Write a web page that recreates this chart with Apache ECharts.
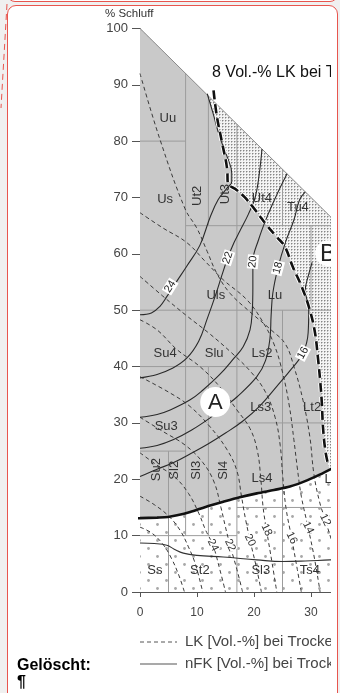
<!DOCTYPE html>
<html><head><meta charset="utf-8">
<script src="https://cdn.jsdelivr.net/npm/echarts@6/dist/echarts.min.js"></script>
<style>
html,body{margin:0;padding:0;background:#f0f0f0;width:340px;height:693px;overflow:hidden;font-family:"Liberation Sans",Arial,sans-serif;}
#prev{position:absolute;left:7px;top:-30px;width:329px;height:30px;border:1px solid #e8554e;border-radius:8px;background:#fff;}
#box{position:absolute;left:7px;top:5px;width:329px;height:720px;border:1px solid #e8554e;border-radius:9px;background:#fff;}
#clip{position:absolute;left:0;top:0;width:331px;height:693px;overflow:hidden;}
#chart{position:absolute;left:0;top:0;width:400px;height:693px;}
#del{position:absolute;left:17px;top:656px;font:bold 16px "Liberation Sans",Arial,sans-serif;color:#000;line-height:17px;}
#conn{position:absolute;left:0;top:0;}
</style></head>
<body>
<div id="prev"></div>
<div id="box"></div>
<svg id="conn" width="12" height="112"><line x1="7" y1="4" x2="1" y2="108" stroke="#e8554e" stroke-width="1" stroke-dasharray="6,4"/></svg>
<div id="clip"><div id="chart"></div></div>
<div id="del">Gelöscht:<br>¶</div>
<script>
// ---------- data ----------
const xTicks = [0, 10, 20, 30];
const yTicks = [0, 10, 20, 30, 40, 50, 60, 70, 80, 90, 100];
// thick solid boundary (nFK boundary)
const thickLine = [[-4,13],[0,13.1],[3,13.2],[4.9,13.3],[6.5,13.6],[8.8,14.2],[11.5,15.1],[14.6,16],[17.5,16.8],[20.5,17.5],[23.5,18.1],[26.3,18.7],[29.3,19.8],[32.1,21.1],[33.3,21.7],[36,23.1],[40,25]];
// 8 Vol.-% LK (thick dashed)
const lk8 = [[12.9,89],[13.5,84.3],[14.4,79.7],[15.3,74.9],[15.4,72.6],[17,71.3],[18.4,70],[20.2,67.8],[22.3,65],[24,63],[25.4,61.3],[26.8,57.7],[28.4,54.1],[29.8,50],[30.7,46],[31.2,41.7],[31.6,37.6],[31.9,33.5],[32.1,29.3],[32.5,25.2],[33,22.6]];
// thin bottom solid line in sand region
const sandLine = [[0,8.7],[2.5,8.6],[4.7,8.3],[6,7.6],[7.6,6.9],[10,6.5],[14.6,6.2],[20.5,5.7],[25,5.4],[29,5.5],[33.3,5.7],[40,5.9]];
// nFK contours (solid)
const nfk24 = [[0,49.2],[2,49.5],[3.5,50.7],[4.7,52.4],[6.5,55.2],[8.2,57.8],[10.5,61.5],[12.3,66.5],[13.7,69.6],[15.3,71.7],[16.1,72.8],[16.1,74.3],[15.3,77.2],[14,80.7],[12.8,85],[11.8,88.4]];
const nfk22 = [[0,38],[3,38.6],[5.5,39.6],[8.2,41.5],[10.3,44.5],[11.8,48.5],[13.3,52.8],[14.3,56],[15.4,59.3],[16.5,62],[17.5,64],[19,67],[20.2,70],[20.9,74],[21.4,78.6]];
const nfk20 = [[0,31],[3,31.5],[5.3,32.3],[8.8,34.1],[11,35.8],[14,38.6],[16.5,41.5],[18.1,43.5],[19.3,46.5],[19.7,50],[19.8,54],[19.8,58.6],[20.8,62.5],[22.3,66.6],[24,70.5],[25.8,74.2]];
const nfk18 = [[0,25.5],[3,26],[5.8,27],[9,28.7],[12.3,30.9],[15,33],[17,34.6],[20.5,38.2],[22,41],[22.8,45],[23,49],[23.3,53],[24.2,57.5],[25.5,62],[27,66],[28,69.6],[29,71]];
const nfk16 = [[0,20.5],[3,21.8],[6,23],[9,24.6],[12,26.3],[15,28.2],[18,30.3],[21,33],[24,36.5],[26.5,39.5],[28.6,42.4],[29.5,46],[29.6,50],[29,53.6],[29.5,56],[30.2,58.5]];
// LK contours (dashed)
const lk12 = [[0,92],[3.5,80.3],[7.9,68],[10,64.5],[11.8,60.4],[13.5,56.5],[15.8,53],[19.3,49.7],[23,46.5],[25.5,44],[27,40],[28.6,34],[29.8,27.5],[30.5,21],[31.5,16],[32.5,12.8],[34,8],[35.5,4],[37,0]];
const lk14 = [[0,67.3],[4,64.6],[8.2,62],[11.5,58.6],[14.6,55.4],[18.8,51.8],[21.5,48],[23.5,44],[25,39],[26.2,33],[27,27],[27.6,22],[28.3,17],[29.5,11.4],[30.6,6],[31.6,0]];
const lk16 = [[0,56],[4,52.5],[8.2,49],[12,46],[16,42.5],[19.5,39],[22,35.5],[23.7,31],[24.6,26],[25,21],[25.6,15],[26.6,9.6],[27.6,4],[28.3,0]];
const lk18 = [[0,48.3],[3,46.5],[6.5,43],[10.5,40],[14,36.4],[17,32.3],[19.3,29],[20.6,25],[21.2,20],[21.6,15],[22.2,11],[23.2,5],[24,0]];
const lk20 = [[0,38.2],[5.3,35.3],[8.8,32.9],[12.3,29.3],[15.3,25.2],[17,21.5],[17.8,17],[18.5,13],[19.3,9.2],[20.5,4],[21.3,0]];
const lk22 = [[0,31],[4,28.5],[8,26],[11,23],[13,19.5],[14.2,15],[15,11.5],[15.8,8.3],[17,4],[18,0]];
const lk24 = [[0,24.7],[3,22.5],[6,20.5],[8.5,17.5],[10.3,14],[11.5,11],[12.8,8.3],[14,4],[15,0]];
const lk26 = [[0,17],[2.5,15.5],[5,13.5],[7,11],[8.5,8],[9.7,5],[11,0]];
const lk28 = [[0,11.5],[2,10.5],[4,8.5],[5.5,6],[6.8,3],[7.8,0]];
const lkLines = [lk12, lk14, lk16, lk18, lk20, lk22, lk24, lk26, lk28];
const nfkLines = [nfk24, nfk22, nfk20, nfk18, nfk16];
// class boundaries [x1,y1,x2,y2]
const classGrid = [[0,80,8,80],[8,65,40,65],[0,50,40,50],[0,40,25,40],[17,30,40,30],[0,25,8,25],[17,15,40,15],[0,10,17,10],
  [5,0,5,25],[8,10,8,92],[12,10,12,40],[12,65,12,88],[17,0,17,83],[25,0,25,50],[25,65,25,75],[30,50,30,65],[35,0,35,65]];
// soil class labels [text, x, y, rotation deg]
const classLabels = [["Uu",4.9,84.1,0],["Us",4.4,69.6,0],["Ut2",10,70.3,90],["Ut3",15,70.6,90],["Ut4",21.4,69.8,0],["Tu4",27.7,68.3,0],
  ["Uls",13.3,52.7,0],["Lu",23.7,52.7,0],["Su4",4.4,42.4,0],["Slu",13,42.4,0],["Ls2",21.4,42.4,0],["Ls3",21.2,32.7,0],["Lt2",30.2,32.7,0],
  ["Su3",4.6,29.3,0],["Su2",2.8,21.7,90],["Sl2",6.1,21.6,90],["Sl3",9.9,21.6,90],["Sl4",14.7,21.6,90],["Ls4",21.4,20.2,0],["Lts",33.9,19.9,0],
  ["Ss",2.6,3.9,0],["St2",10.5,3.9,0],["Sl3",21.2,3.9,0],["Ts4",29.8,3.9,0]];
// contour value labels [text, x, y, rotation deg]
const nfkLabels = [["24",5.3,54.2,58],["22",15.4,59.3,72],["20",19.8,58.6,85],["18",24.2,57.5,75],["16",28.6,42.4,62]];
const lkLabels = [["24",12.8,8.3,-64],["22",15.8,8.3,-64],["20",19.3,9.2,-64],["18",22.2,11,-64],["16",26.6,9.6,-64],["14",29.5,11.4,-64],["12",32.5,12.8,-64]];
const regionLetters = [["A",13.2,33.7],["B",33,60.1]];

// ---------- patterns ----------
function stipple(){const c=document.createElement('canvas');c.width=3;c.height=3;const g=c.getContext('2d');
  g.fillStyle='#f4f4f4';g.fillRect(0,0,3,3);g.fillStyle='#c0c0c0';g.fillRect(1,0,1,1);g.fillRect(0,1,1,1);g.fillStyle='#858585';g.fillRect(0,0,1,1);return c;}
function sandDots(){const c=document.createElement('canvas');c.width=18;c.height=16;const g=c.getContext('2d');
  g.fillStyle='#ffffff';g.fillRect(0,0,18,16);g.fillStyle='#a8a8a8';
  g.beginPath();g.arc(4.5,4.5,1.4,0,Math.PI*2);g.fill();g.beginPath();g.arc(13.5,12.5,1.4,0,Math.PI*2);g.fill();return c;}

// ---------- polygons built from the boundaries ----------
const thickIn = thickLine.filter(p=>p[0]>=0 && p[0]<=33.3);
const grayPoly = [[0,100]].concat([[11.8,88.2]], nfk24.slice(9).reverse(), lk8.slice(4), thickIn.slice().reverse(), [[0,13.1]]);
const bPoly = [[0,100],[40,60]].concat(thickLine.filter(p=>p[0]>=0).reverse());
const sandPoly = [[0,0],[40,0]].concat(thickLine.filter(p=>p[0]>=0).reverse());

function polySeries(poly, fill, z){
  return {type:'custom', z:z, silent:true, data:[[0,0]],
    renderItem:function(params, api){
      return {type:'polygon', shape:{points:poly.map(p=>api.coord(p))}, style:{fill:fill, stroke:null}};
    }};
}
function lineSeries(pts, color, width, dash, z, smooth, clip){
  return {type:'line', data:pts, showSymbol:false, smooth:smooth, z:z, silent:true, clip:clip!==false,
    lineStyle:{color:color, width:width, type:dash||'solid'}};
}
function textSeries(arr, z, styleFn){
  return {type:'custom', z:z, silent:true, data:arr.map(d=>[d[1],d[2]]),
    renderItem:function(params, api){
      const d=arr[params.dataIndex]; const p=api.coord([api.value(0), api.value(1)]);
      return {type:'text', x:p[0], y:p[1], rotation:(d[3]||0)*Math.PI/180, style:styleFn(d)};
    }};
}

const chart = echarts.init(document.getElementById('chart'), null, {renderer:'canvas'});
const series = [];
series.push(polySeries(sandPoly, {image:sandDots(), repeat:'repeat'}, 1));
series.push(polySeries(bPoly, {image:stipple(), repeat:'repeat'}, 1));
series.push(polySeries(grayPoly, '#c9c9c9', 2));
series.push({type:'custom', z:3, silent:true, data:classGrid,
  renderItem:function(params, api){
    const a=api.coord([api.value(0),api.value(1)]), b=api.coord([api.value(2),api.value(3)]);
    return {type:'line', shape:{x1:a[0],y1:a[1],x2:b[0],y2:b[1]}, style:{stroke:'#9c9c9c', lineWidth:1}};
  }});
series.push(lineSeries([[0,100],[40,60]], '#8a8a8a', 1, 'solid', 3, false));
lkLines.forEach(l=>series.push(lineSeries(l, '#3a3a3a', 1, [4,3], 4, 0.4)));
nfkLines.forEach(l=>series.push(lineSeries(l, '#2a2a2a', 1.1, 'solid', 4, 0.4)));
series.push(lineSeries(sandLine, '#333', 1.1, 'solid', 4, 0.4));
series.push(lineSeries(thickLine, '#111', 2.6, 'solid', 6, 0.3, false));
series.push(lineSeries(lk8, '#fff', 4.5, [9,5], 5, 0.4));
series.push(lineSeries(lk8, '#111', 2.6, [9,5], 6, 0.4));
series.push(textSeries(classLabels, 8, d=>({text:d[0], fontSize:13, fill:'#333', align:'center', verticalAlign:'middle', fontFamily:'Liberation Sans'})));
series.push(textSeries(nfkLabels, 8, d=>({text:d[0], fontSize:11, fill:'#222', align:'center', verticalAlign:'middle', fontFamily:'Liberation Sans', backgroundColor:'#fff', padding:[0,1]})));
series.push(textSeries(lkLabels, 8, d=>({text:d[0], fontSize:11, fill:'#333', align:'center', verticalAlign:'middle', fontFamily:'Liberation Sans', backgroundColor:'#fff', padding:[0,0]})));
series.push({type:'custom', z:9, silent:true, data:regionLetters.map(d=>[d[1],d[2]]),
  renderItem:function(params, api){
    const d=regionLetters[params.dataIndex]; const p=api.coord([api.value(0),api.value(1)]);
    const big = d[0]==='B';
    return {type:'group', children:[
      {type:'circle', shape:{cx:p[0], cy:p[1], r:big?13:15}, style:{fill:'#fff'}},
      {type:'text', x:p[0], y:p[1]+1, style:{text:d[0], fontSize:big?24:22, fill:'#222', align:'center', verticalAlign:'middle', fontFamily:'Liberation Sans'}}
    ]};
  }});

chart.setOption({
  backgroundColor:'transparent',
  animation:false,
  grid:{left:140, top:28.4, width:228, height:563.6, containLabel:false},
  xAxis:{type:'value', min:0, max:40, interval:10,
    axisLine:{show:true, lineStyle:{color:'#555', width:1}},
    axisTick:{show:true, length:5, lineStyle:{color:'#555'}},
    axisLabel:{fontSize:12, color:'#444', margin:15, fontFamily:'Liberation Sans', formatter:v=>xTicks.indexOf(v)>=0?String(v):''},
    splitLine:{show:false}},
  yAxis:{type:'value', min:0, max:100, interval:10,
    axisLine:{show:true, lineStyle:{color:'#666', width:1}},
    axisTick:{show:true, length:8, lineStyle:{color:'#555'}},
    axisLabel:{fontSize:13, color:'#444', margin:12, fontFamily:'Liberation Sans', formatter:v=>yTicks.indexOf(v)>=0?String(v):''},
    splitLine:{show:false}},
  graphic:[
    {type:'text', left:105, top:8, style:{text:'% Schluff', fontSize:11.5, fill:'#333', fontFamily:'Liberation Sans'}},
    {type:'text', x:212, y:73, z:20, style:{text:'8 Vol.-% LK bei Trockenrohdichte', fontSize:16, fill:'#111', verticalAlign:'middle', fontFamily:'Liberation Sans'}},
    {type:'line', shape:{x1:140,y1:642,x2:177,y2:642}, style:{stroke:'#555', lineWidth:1, lineDash:[4,3]}},
    {type:'text', x:185, y:642, style:{text:'LK [Vol.-%] bei Trockenrohdichte', fontSize:15, fill:'#444', verticalAlign:'middle', fontFamily:'Liberation Sans'}},
    {type:'line', shape:{x1:140,y1:664,x2:177,y2:664}, style:{stroke:'#555', lineWidth:1.2}},
    {type:'text', x:185, y:664, style:{text:'nFK [Vol.-%] bei Trockenrohdichte', fontSize:15, fill:'#444', verticalAlign:'middle', fontFamily:'Liberation Sans'}}
  ],
  series:series
});
</script>
</body></html>
